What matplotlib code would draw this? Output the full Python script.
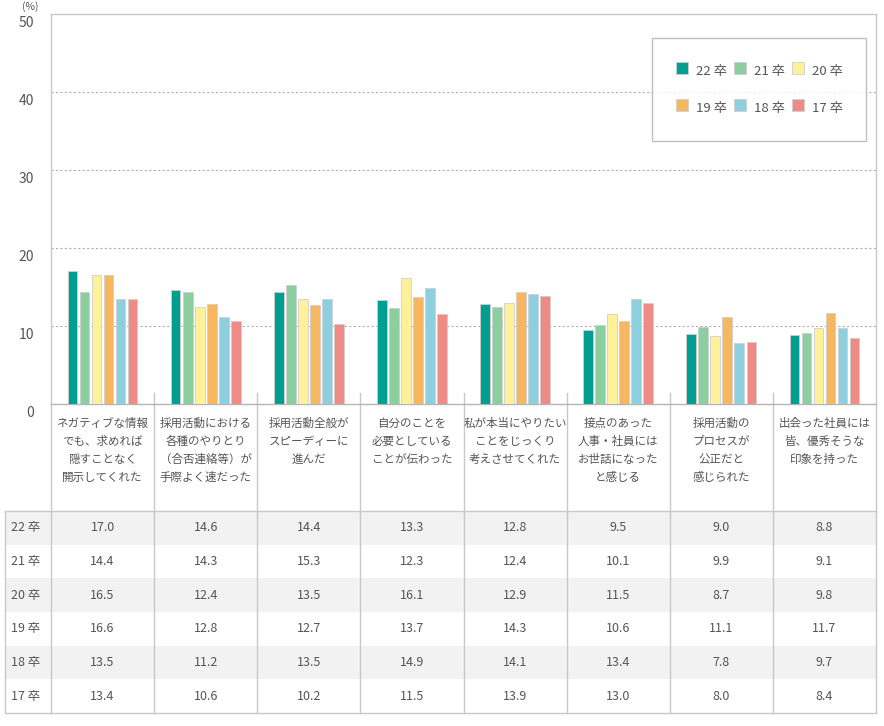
import numpy as np
import matplotlib
matplotlib.use("Agg")
import matplotlib.pyplot as plt
from matplotlib.lines import Line2D
from matplotlib.patches import Rectangle

plt.rcParams['font.family'] = ['Noto Sans CJK JP', 'DejaVu Sans']

# データ
categories = [
    "ネガティブな情報\nでも、求めれば\n隠すことなく\n開示してくれた",
    "採用活動における\n各種のやりとり\n（合否連絡等）が\n手際よく速だった",
    "採用活動全般が\nスピーディーに\n進んだ",
    "自分のことを\n必要としている\nことが伝わった",
    "私が本当にやりたい\nことをじっくり\n考えさせてくれた",
    "接点のあった\n人事・社員には\nお世話になった\nと感じる",
    "採用活動の\nプロセスが\n公正だと\n感じられた",
    "出会った社員には\n皆、優秀そうな\n印象を持った",
]
series_names = ["22 卒", "21 卒", "20 卒", "19 卒", "18 卒", "17 卒"]
v22 = [17.0, 14.6, 14.4, 13.3, 12.8, 9.5, 9.0, 8.8]
v21 = [14.4, 14.3, 15.3, 12.3, 12.4, 10.1, 9.9, 9.1]
v20 = [16.5, 12.4, 13.5, 16.1, 12.9, 11.5, 8.7, 9.8]
v19 = [16.6, 12.8, 12.7, 13.7, 14.3, 10.6, 11.1, 11.7]
v18 = [13.5, 11.2, 13.5, 14.9, 14.1, 13.4, 7.8, 9.7]
v17 = [13.4, 10.6, 10.2, 11.5, 13.9, 13.0, 8.0, 8.4]
values = [v22, v21, v20, v19, v18, v17]
colors = ["#009e8f", "#8bcfa0", "#fff09a", "#f7b760", "#8ecfdf", "#ee8b86"]
yticks = [0, 10, 20, 30, 40, 50]

W, H = 884, 726
txt = "#555555"
line = "#c8c8c8"

fig = plt.figure(figsize=(W / 100, H / 100), dpi=100)

# 背景用の軸（ピクセル座標）
bg = fig.add_axes([0, 0, 1, 1])
bg.set_xlim(0, W)
bg.set_ylim(H, 0)
bg.axis("off")

left, right, top, zero = 51, 876, 14, 404
ax = fig.add_axes([left / W, 1 - zero / H, (right - left) / W, (zero - top) / H])
ax.set_xlim(0, len(categories))
ax.set_ylim(0, 50)
ax.patch.set_alpha(0)

n = len(categories)
x = np.arange(n) + 0.5
pitch = 12 / 103
for i, (vals, c) in enumerate(zip(values, colors)):
    ax.bar(x + (i - 2.5) * pitch, vals, width=0.094, color=c,
           edgecolor="#cfcfcf", linewidth=0.6, zorder=3)

for t in [10, 20, 30, 40]:
    ax.axhline(t, color="#b0b0b0", lw=0.8, ls=(0, (2, 2)), zorder=1)

for s in ["top", "right", "left", "bottom"]:
    ax.spines[s].set_color(line)
    ax.spines[s].set_linewidth(1)
ax.spines["bottom"].set_color("#b5b5b5")
ax.set_xticks([])
ax.set_yticks(yticks)
ax.set_yticklabels([str(t) for t in yticks], color=txt, fontsize=10, va="center")
ax.tick_params(axis="y", length=0, pad=12)
for lab in ax.get_yticklabels():
    lab.set_transform(lab.get_transform() + matplotlib.transforms.ScaledTranslation(0, -9 / 100, fig.dpi_scale_trans))
bg.text(30, 7, "(%)", fontsize=7.5, color=txt, ha="center", va="center")

# 凡例
order = [0, 3, 1, 4, 2, 5]
handles = [Line2D([], [], marker="s", ls="none", markersize=9,
                  markerfacecolor=colors[k], markeredgecolor="#cfcfcf",
                  markeredgewidth=0.6) for k in order]
labels = [series_names[k] for k in order]
leg = fig.legend(handles, labels, ncol=3, loc="upper left",
                 bbox_to_anchor=(652 / W, 1 - 139 / H, (866 - 652) / W, (139 - 38) / H),
                 mode="expand", fontsize=9.5, frameon=True, fancybox=False,
                 handlelength=1.1, handleheight=1.9, handletextpad=0.5,
                 labelspacing=1.35, borderpad=1.75, columnspacing=1.2,
                 labelcolor=txt, borderaxespad=0)
leg.get_frame().set_edgecolor("#b0b0b0")
leg.get_frame().set_linewidth(1)

# 表
col_w = (right - left) / n
tbl_top, tbl_bot, tbl_left = 511, 713, 5
row_h = (tbl_bot - tbl_top) / len(series_names)
for r in range(len(series_names)):
    y0 = tbl_top + r * row_h
    if r % 2 == 0:
        bg.add_patch(Rectangle((tbl_left, y0), right - tbl_left, row_h,
                               facecolor="#f2f2f2", edgecolor="none", zorder=0))
    yc = y0 + row_h / 2
    bg.text(26, yc, series_names[r], ha="center", va="center", fontsize=9, color=txt)
    for j in range(n):
        bg.text(left + (j + 0.5) * col_w, yc, f"{values[r][j]:.1f}",
                ha="center", va="center", fontsize=9, color=txt)

# カテゴリラベル
for j, cat in enumerate(categories):
    bg.text(left + (j + 0.5) * col_w, 417, cat, ha="center", va="top",
            fontsize=8.3, color=txt, linespacing=1.5)

# 罫線
for j in range(1, n):
    xs = left + j * col_w
    bg.plot([xs, xs], [393, tbl_bot], color=line, lw=1, zorder=2)
bg.plot([left, left], [zero, tbl_bot], color=line, lw=1, zorder=2)
bg.plot([right, right], [zero, tbl_bot], color=line, lw=1, zorder=2)
bg.plot([tbl_left, right], [tbl_top, tbl_top], color=line, lw=1, zorder=2)
bg.plot([tbl_left, right], [tbl_bot, tbl_bot], color=line, lw=1, zorder=2)
bg.plot([tbl_left, tbl_left], [tbl_top, tbl_bot], color=line, lw=1, zorder=2)

fig.savefig("out.png", dpi=100)
